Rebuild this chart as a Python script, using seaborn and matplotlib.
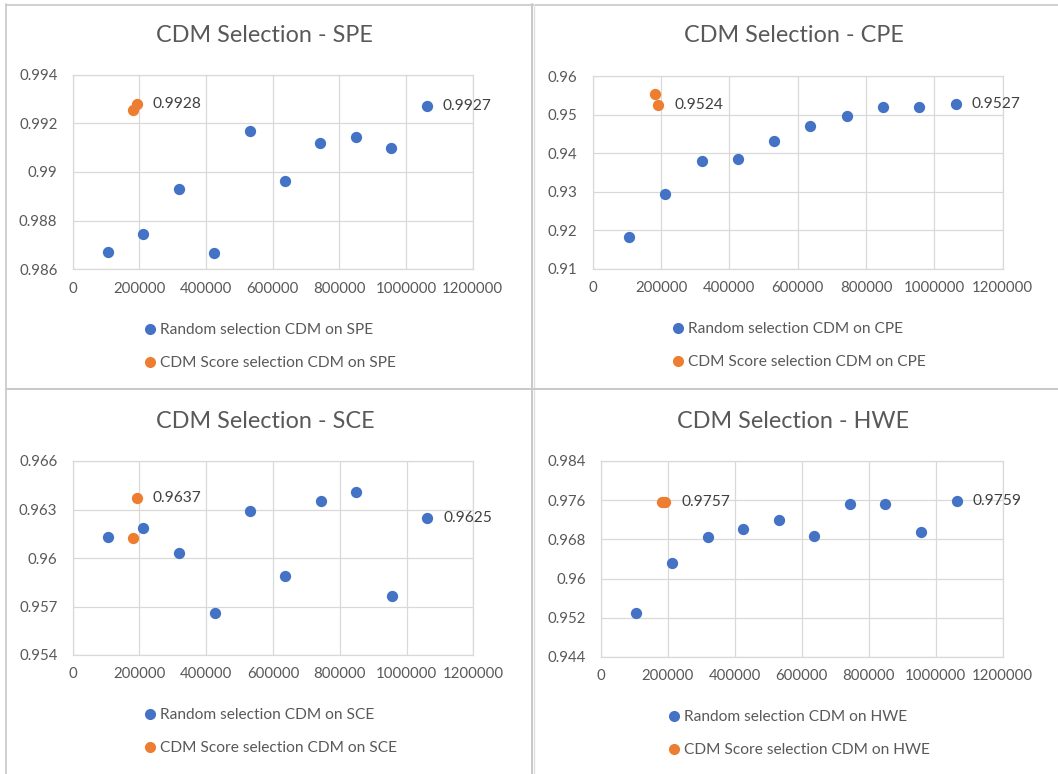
import matplotlib
matplotlib.use("Agg")
import matplotlib.pyplot as plt
from matplotlib.lines import Line2D
import seaborn as sns
import pandas as pd

# ---------------- data ----------------
panels = ["SPE", "CPE", "SCE", "HWE"]

random_x = [106000, 212000, 319000, 425000, 531000, 637000, 743000, 849000, 956000, 1062000]
score_x = [181000, 192000]

spe_random = [0.98671, 0.98747, 0.98929, 0.98667, 0.99170, 0.98964, 0.99118, 0.99142, 0.99099, 0.9927]
spe_score = [0.99253, 0.9928]
cpe_random = [0.91813, 0.92946, 0.93803, 0.93846, 0.94313, 0.94702, 0.94953, 0.95204, 0.95196, 0.9527]
cpe_score = [0.95524, 0.9524]
sce_random = [0.96132, 0.96184, 0.96033, 0.95662, 0.96293, 0.95887, 0.96353, 0.96410, 0.95765, 0.9625]
sce_score = [0.96126, 0.9637]
hwe_random = [0.95305, 0.96325, 0.96849, 0.97019, 0.97189, 0.96869, 0.97516, 0.97529, 0.96958, 0.9759]
hwe_score = [0.9757, 0.9757]

x_ticks = [0, 200000, 400000, 600000, 800000, 1000000, 1200000]
spe_yticks = [0.986, 0.988, 0.990, 0.992, 0.994]
cpe_yticks = [0.91, 0.92, 0.93, 0.94, 0.95, 0.96]
sce_yticks = [0.954, 0.957, 0.960, 0.963, 0.966]
hwe_yticks = [0.944, 0.952, 0.960, 0.968, 0.976, 0.984]

random_vals = [spe_random, cpe_random, sce_random, hwe_random]
score_vals = [spe_score, cpe_score, sce_score, hwe_score]
yticks_all = [spe_yticks, cpe_yticks, sce_yticks, hwe_yticks]

# ---------------- style ----------------
sns.set_theme(style="white")
plt.rcParams["font.family"] = ["Lato", "DejaVu Sans"]

BLUE = "#4472C4"
ORANGE = "#ED7D31"
GRID = "#D9D9D9"
TXT = "#595959"

W, H = 1058, 774
fig = plt.figure(figsize=(W / 100, H / 100), dpi=100)
fig.patch.set_facecolor("white")


def rect(l, t, r, b):
    return [l / W, 1 - b / H, (r - l) / W, (b - t) / H]


# plot-area rectangles (pixels: left, top, right, bottom)
areas = [
    (72.7, 74.7, 472.7, 269.3),
    (592.7, 76.0, 1002.7, 268.7),
    (72.7, 461.0, 473.3, 655.0),
    (601.0, 461.0, 1002.7, 657.0),
]
title_pos = [(264, 35), (794, 36), (265, 421), (793, 421)]
legend_pos = [(144, 323), (672, 322), (144, 708), (668, 710)]


def fmt_y(v):
    s = f"{v:.6f}".rstrip("0").rstrip(".")
    return s


for i, name in enumerate(panels):
    ax = fig.add_axes(rect(*areas[i]))
    df_r = pd.DataFrame({"x": random_x, "y": random_vals[i]})
    df_s = pd.DataFrame({"x": score_x, "y": score_vals[i]})
    sns.scatterplot(data=df_r, x="x", y="y", ax=ax, color=BLUE, s=66,
                    linewidth=0, zorder=3)
    sns.scatterplot(data=df_s, x="x", y="y", ax=ax, color=ORANGE, s=66,
                    linewidth=0, zorder=3)
    yt = yticks_all[i]
    ax.set_xlim(x_ticks[0], x_ticks[-1])
    ax.set_ylim(yt[0], yt[-1])
    ax.set_xticks(x_ticks)
    ax.set_xticklabels([str(v) for v in x_ticks])
    ax.set_yticks(yt)
    ax.set_yticklabels([fmt_y(v) for v in yt])
    ax.grid(True, color=GRID, linewidth=0.9)
    ax.set_axisbelow(True)
    for sp in ax.spines.values():
        sp.set_color(GRID)
        sp.set_linewidth(0.9)
    ax.tick_params(axis="both", length=0, labelsize=10.8, labelcolor=TXT)
    ax.tick_params(axis="y", pad=11)
    ax.tick_params(axis="x", pad=9)
    ax.set_xlabel("")
    ax.set_ylabel("")

    # data labels
    ax.annotate(f"{score_vals[i][1]:.4f}", (score_x[1], score_vals[i][1]),
                xytext=(11.5, 0), textcoords="offset points", ha="left",
                va="center", fontsize=11.2, color="#404040")
    ax.annotate(f"{random_vals[i][-1]:.4f}", (random_x[-1], random_vals[i][-1]),
                xytext=(11.5, 0), textcoords="offset points", ha="left",
                va="center", fontsize=11.2, color="#404040")

    tx, ty = title_pos[i]
    fig.text(tx / W, 1 - ty / H, f"CDM Selection - {name}", ha="center",
             va="center", fontsize=16.8, color=TXT)

    handles = [
        Line2D([], [], marker="o", linestyle="none", color=BLUE, markersize=8,
               markeredgewidth=0),
        Line2D([], [], marker="o", linestyle="none", color=ORANGE, markersize=8,
               markeredgewidth=0),
    ]
    labels = [f"Random selection CDM on {name}", f"CDM Score selection CDM on {name}"]
    lx, ly = legend_pos[i]
    fig.legend(handles, labels, loc="upper left",
               bbox_to_anchor=(lx / W, 1 - ly / H), bbox_transform=fig.transFigure,
               frameon=False, fontsize=11.2, labelcolor=TXT, handlelength=0.8,
               handletextpad=0.25, labelspacing=1.25, borderpad=0, borderaxespad=0)

# panel borders
BORDER = "#C8C8C8"
fig.add_artist(Line2D([6 / W, 6 / W], [0, 1 - 4 / H], transform=fig.transFigure,
                      color=BORDER, linewidth=1.2))
fig.add_artist(Line2D([6 / W, 1], [1 - 5 / H, 1 - 5 / H], transform=fig.transFigure,
                      color=BORDER, linewidth=1.2))
fig.add_artist(Line2D([531.5 / W, 531.5 / W], [0, 1 - 4 / H], transform=fig.transFigure,
                      color=BORDER, linewidth=1.4))
fig.add_artist(Line2D([534 / W, 534 / W], [0, 1 - 4 / H], transform=fig.transFigure,
                      color="#E0E0E0", linewidth=1.0))
fig.add_artist(Line2D([6 / W, 1], [1 - 388.5 / H, 1 - 388.5 / H], transform=fig.transFigure,
                      color=BORDER, linewidth=1.4))

fig.savefig("out.png", dpi=100, facecolor="white")
